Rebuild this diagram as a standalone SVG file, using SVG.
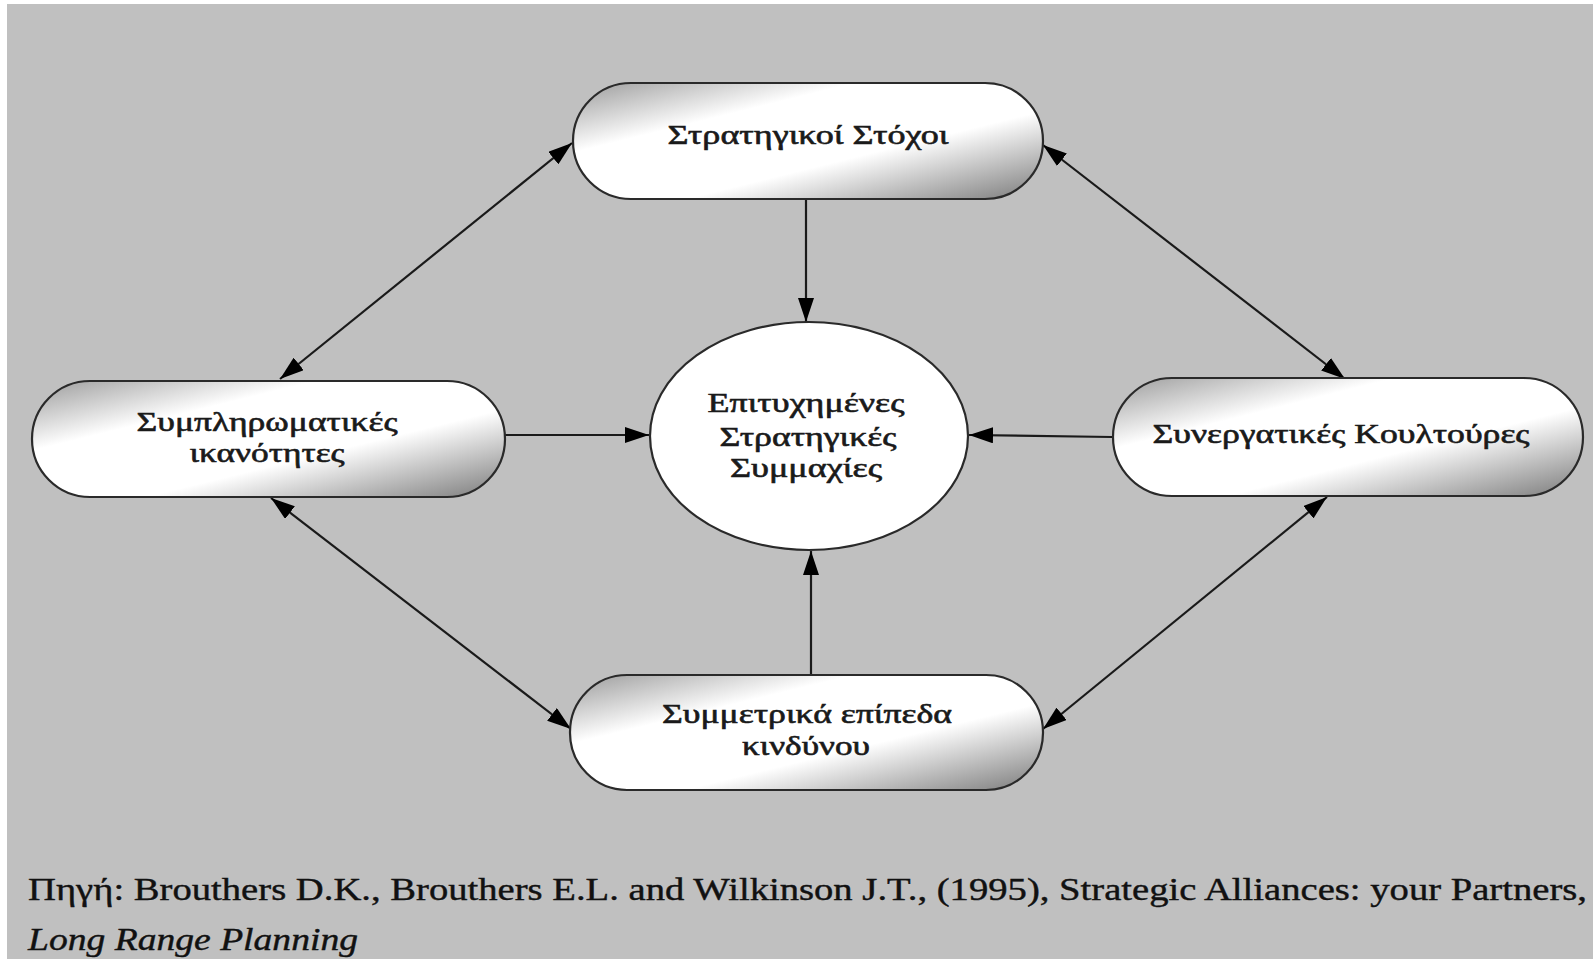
<svg xmlns="http://www.w3.org/2000/svg" width="1593" height="959" viewBox="0 0 1593 959">
<style>
.node{stroke:#2a2a2a;stroke-width:2.2}
.t{font-family:"Liberation Serif","DejaVu Serif",serif;font-size:27px;font-weight:normal;fill:#1a1a1a;stroke:#1a1a1a;stroke-width:0.6;text-anchor:middle}
.c{stroke:#1a1a1a;stroke-width:2.2;fill:none}
.cap{font-family:"Liberation Serif","DejaVu Serif",serif;font-size:31px;fill:#111;stroke:#111;stroke-width:0.4}
</style>
<defs>
<linearGradient id="pill" x1="0" y1="0" x2="1" y2="1">
<stop offset="0" stop-color="#9a9a9a"/>
<stop offset="0.3" stop-color="#ffffff"/>
<stop offset="0.62" stop-color="#ffffff"/>
<stop offset="1" stop-color="#7a7a7a"/>
</linearGradient>
<marker id="ah" viewBox="0 0 24 16" refX="24" refY="8" markerWidth="24" markerHeight="16" markerUnits="userSpaceOnUse" orient="auto-start-reverse">
<path d="M0,0 L24,8 L0,16 Z" fill="#000"/>
</marker>
</defs>
<rect x="0" y="0" width="1593" height="959" fill="#ffffff"/>
<rect x="7" y="4" width="1586" height="955" fill="#c0c0c0"/>

<g id="connectors">
<line class="c" x1="806" y1="200" x2="806" y2="322" marker-end="url(#ah)"/>
<line class="c" x1="811" y1="675" x2="811" y2="551" marker-end="url(#ah)"/>
<line class="c" x1="502" y1="435" x2="649" y2="435" marker-end="url(#ah)"/>
<line class="c" x1="1112" y1="437" x2="969" y2="435" marker-end="url(#ah)"/>
<line class="c" x1="572" y1="143" x2="280" y2="379" marker-start="url(#ah)" marker-end="url(#ah)"/>
<line class="c" x1="1043" y1="145" x2="1345" y2="379" marker-start="url(#ah)" marker-end="url(#ah)"/>
<line class="c" x1="271" y1="498" x2="571" y2="729" marker-start="url(#ah)" marker-end="url(#ah)"/>
<line class="c" x1="1327" y1="497" x2="1043" y2="729" marker-start="url(#ah)" marker-end="url(#ah)"/>
</g>

<g id="node-top">
<rect class="node" x="573" y="83" width="470" height="116" rx="58" fill="url(#pill)"/>
<text class="t" x="808" y="144" textLength="281" lengthAdjust="spacingAndGlyphs">Στρατηγικοί Στόχοι</text>
</g>
<g id="node-left">
<rect class="node" x="32" y="381" width="473" height="116" rx="58" fill="url(#pill)"/>
<text class="t" x="267" y="431" textLength="261" lengthAdjust="spacingAndGlyphs">Συμπληρωματικές</text>
<text class="t" x="267" y="462" textLength="155" lengthAdjust="spacingAndGlyphs">ικανότητες</text>
</g>
<g id="node-center">
<ellipse class="node" cx="809" cy="436" rx="159" ry="114" fill="#ffffff"/>
<text class="t" x="806" y="412" textLength="197" lengthAdjust="spacingAndGlyphs">Επιτυχημένες</text>
<text class="t" x="808" y="446" textLength="177" lengthAdjust="spacingAndGlyphs">Στρατηγικές</text>
<text class="t" x="806" y="477" textLength="152" lengthAdjust="spacingAndGlyphs">Συμμαχίες</text>
</g>
<g id="node-right">
<rect class="node" x="1113" y="378" width="470" height="118" rx="59" fill="url(#pill)"/>
<text class="t" x="1341" y="443" textLength="377" lengthAdjust="spacingAndGlyphs">Συνεργατικές Κουλτούρες</text>
</g>
<g id="node-bottom">
<rect class="node" x="570" y="675" width="473" height="115" rx="57" fill="url(#pill)"/>
<text class="t" x="807" y="723" textLength="290" lengthAdjust="spacingAndGlyphs">Συμμετρικά επίπεδα</text>
<text class="t" x="806" y="755" textLength="128" lengthAdjust="spacingAndGlyphs">κινδύνου</text>
</g>

<g id="caption">
<text class="cap" x="28" y="900" textLength="1559" lengthAdjust="spacingAndGlyphs">Πηγή: Brouthers D.K., Brouthers E.L. and Wilkinson J.T., (1995), Strategic Alliances: your Partners,</text>
<text class="cap" x="28" y="950" font-style="italic" textLength="330" lengthAdjust="spacingAndGlyphs">Long Range Planning</text>
</g>
</svg>
